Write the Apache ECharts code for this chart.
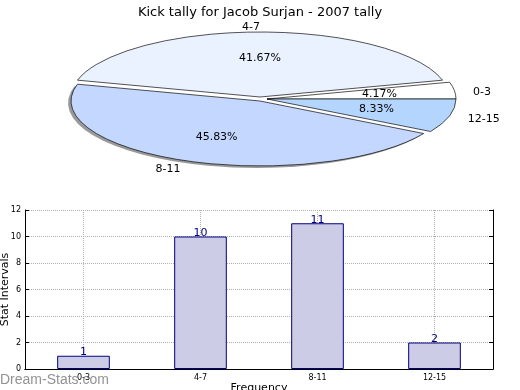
<!DOCTYPE html>
<html><head><meta charset="utf-8">
<script src="https://cdn.jsdelivr.net/npm/echarts@6/dist/echarts.min.js"></script>
<style>html,body{margin:0;padding:0;background:#fff}#c{width:520px;height:390px}</style>
</head><body><div id="c"></div>
<script>
const titleText = 'Kick tally for Jacob Surjan - 2007 tally';
const categories = ['0-3', '4-7', '8-11', '12-15'];
const counts = [1, 10, 11, 2];
const pieColors = ['#ffffff', '#ebf2ff', '#c4d7fe', '#b4d5fe'];
const sliceOffsets = [[5, 0], [-2, -2], [-2, 2], [5, 0]];
const yMin = 0, yMax = 12, yStep = 2;

const FONT = 'DejaVu Sans';
const total = counts.reduce((a, b) => a + b, 0);
const startFrac = counts.map((v, i) => counts.slice(0, i).reduce((a, b) => a + b, 0) / total);
const PCX = 262, PCY = 99, RX = 189, RY = 65;

const chart = echarts.init(document.getElementById('c'), null, {renderer: 'canvas'});
chart.setOption({
  animation: false,
  backgroundColor: '#fff',
  title: {text: titleText, left: 'center', top: 1, textStyle: {fontFamily: FONT, fontSize: 13, fontWeight: 'normal', color: '#000'}},
  graphic: [{type: 'text', left: 0, top: 373, z: 100, style: {text: 'Dream-Stats.com', font: '14px "Liberation Sans"', fill: 'rgba(110,110,110,0.75)'}}],
  grid: {left: 25, right: 27, top: 210, bottom: 21, outerBoundsMode: 'none', containLabel: false},
  xAxis: [{
    type: 'category', data: categories, boundaryGap: true,
    axisLine: {lineStyle: {color: '#000'}},
    axisTick: {inside: true, alignWithLabel: true, length: 4, lineStyle: {color: '#000'}},
    axisLabel: {fontFamily: FONT, fontSize: 8, color: '#000', margin: 5},
    splitLine: {show: true, alignWithLabel: true, lineStyle: {type: 'dotted', color: '#b0b0b0'}},
    name: 'Frequency', nameLocation: 'middle', nameGap: 14, nameMoveOverlap: false,
    nameTextStyle: {fontFamily: FONT, fontSize: 11, color: '#000'}
  }, {
    type: 'category', data: categories, position: 'top', boundaryGap: true,
    axisLine: {lineStyle: {color: '#000'}},
    axisTick: {inside: true, alignWithLabel: true, length: 4, lineStyle: {color: '#000'}},
    axisLabel: {show: false}, splitLine: {show: false}
  }],
  yAxis: [{
    type: 'value', min: yMin, max: yMax, interval: yStep,
    axisLine: {show: true, lineStyle: {color: '#000'}},
    axisTick: {show: true, inside: true, length: 4, lineStyle: {color: '#000'}},
    axisLabel: {fontFamily: FONT, fontSize: 8, color: '#000', margin: 4},
    splitLine: {show: true, lineStyle: {type: 'dotted', color: '#b0b0b0'}},
    name: 'Stat Intervals', nameLocation: 'middle', nameGap: 14, nameMoveOverlap: false,
    nameTextStyle: {fontFamily: FONT, fontSize: 11, color: '#000'}
  }, {
    type: 'value', min: yMin, max: yMax, interval: yStep, position: 'right',
    axisLine: {show: true, lineStyle: {color: '#000'}},
    axisTick: {show: true, inside: true, length: 4, lineStyle: {color: '#000'}},
    axisLabel: {show: false}, splitLine: {show: false}
  }],
  series: [{
    type: 'bar', data: counts, barWidth: '45%', xAxisIndex: 0, yAxisIndex: 0,
    itemStyle: {color: '#ccccE6', borderColor: '#000080', borderWidth: 1},
    label: {show: true, position: 'top', distance: -2, color: '#000080', fontFamily: FONT, fontSize: 11}
  }, {
    type: 'custom', coordinateSystem: 'none',
    data: counts.map((v, i) => [v, i]),
    renderItem: function (params, api) {
      const i = params.dataIndex;
      const v = api.value(0);
      const a0 = startFrac[i] * Math.PI * 2;
      const a1 = a0 + v / total * Math.PI * 2;
      const mid = (a0 + a1) / 2;
      const ox = PCX + sliceOffsets[i][0], oy = PCY + sliceOffsets[i][1];
      const c = Math.cos(mid), s = Math.sin(mid);
      const pct = (v / total * 100).toFixed(2) + '%';
      const shape = {cx: 0, cy: 0, r0: 0, r: RX, startAngle: -a0, endAngle: -a1, clockwise: false};
      const children = [];
      if (i === 2) {
        children.push({type: 'sector', x: -3, y: 2, scaleY: RY / RX, shape: shape, z2: 0,
          style: {fill: '#9a9a9a', stroke: null}});
      }
      children.push({
        type: 'sector', scaleY: RY / RX, shape: shape, z2: 2,
        style: {fill: pieColors[i], stroke: '#000', lineWidth: 1, strokeNoScale: true}
      }, {
        type: 'text', x: 0.6 * RX * c, y: -0.6 * RY * s, z2: 5,
        style: {text: pct, font: '11px "DejaVu Sans"', fill: '#000', align: 'center', verticalAlign: 'middle'}
      }, {
        type: 'text', x: 1.1 * RX * c, y: -1.1 * RY * s + 2, z2: 5,
        style: {text: categories[i], font: '11px "DejaVu Sans"', fill: '#000', align: c > 0 ? 'left' : 'right', verticalAlign: 'middle'}
      });
      return {type: 'group', x: ox, y: oy, children: children};
    }
  }]
});
</script></body></html>
